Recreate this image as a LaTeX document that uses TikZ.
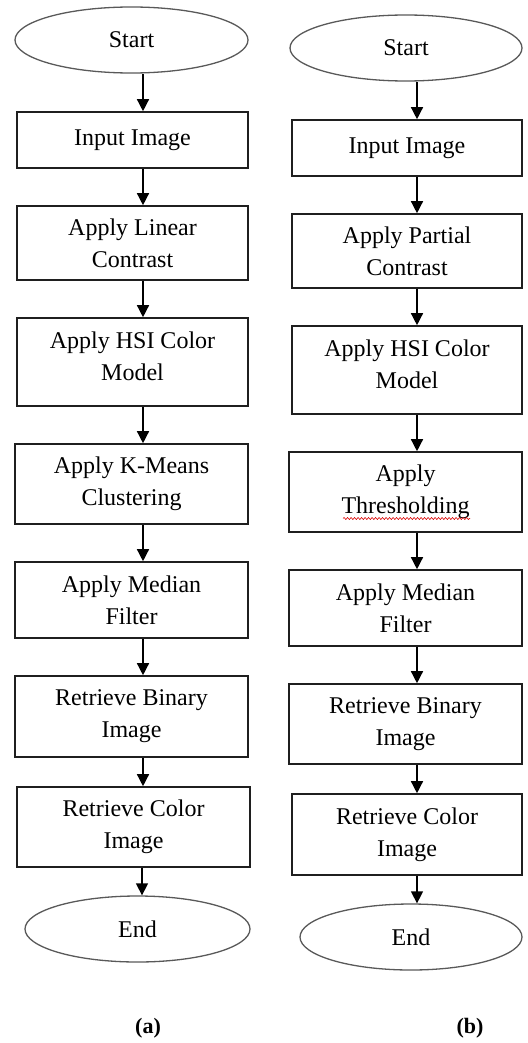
\documentclass[tikz,border=0pt]{standalone}
\usepackage{fontspec}
\setmainfont{Liberation Serif}
\usetikzlibrary{shapes.geometric,arrows.meta,decorations.pathmorphing}
\begin{document}
\begin{tikzpicture}[x=1pt,y=-1pt,
  txt/.style={font=\fontsize{24}{32}\selectfont, text=black},
  stepbox/.style={txt, draw=black!88, line width=1.6pt, inner sep=0pt, align=center},
  term/.style={txt, ellipse, draw=black!65, line width=1.3pt, inner sep=0pt},
  arr/.style={draw=black, line width=1.4pt, -{Triangle[width=12pt,length=12pt]}},
  figlabel/.style={font=\fontsize{22}{26}\selectfont\bfseries},
]
\useasboundingbox (0,0) rectangle (527,1043);

% column x positions of the connectors
\coordinate (ax) at (143,0);
\coordinate (axe) at (142,0);
\coordinate (bx) at (417,0);

% ---- flowchart (a) ----
\node[term, minimum width=233pt, minimum height=66pt] (s1) at (131.5,40) {Start};
\node[stepbox, minimum width=231pt, minimum height=56pt] (i1) at (132.5,140) {Input Image};
\node[stepbox, minimum width=231pt, minimum height=74pt] (c1) at (132.5,243) {Apply Linear\\Contrast};
\node[stepbox, minimum width=231pt, minimum height=88pt] (h1) at (132.5,362) {Apply HSI Color\\Model\\[-20pt]\mbox{}};
\node[stepbox, minimum width=233pt, minimum height=80pt] (k1) at (131.5,484) {Apply K-Means\\Clustering};
\node[stepbox, minimum width=233pt, minimum height=76pt] (m1) at (131.5,600) {Apply Median\\Filter};
\node[stepbox, minimum width=233pt, minimum height=81pt] (b1) at (131.5,716.5) {Retrieve Binary\\Image};
\node[stepbox, minimum width=233pt, minimum height=80pt] (r1) at (133.5,827) {Retrieve Color\\Image};
\node[term, minimum width=225pt, minimum height=66pt] (e1) at (137.5,929) {End};

\draw[arr] (s1.south -| ax) -- (i1.north -| ax);
\draw[arr] (i1.south -| ax) -- (c1.north -| ax);
\draw[arr] (c1.south -| ax) -- (h1.north -| ax);
\draw[arr] (h1.south -| ax) -- (k1.north -| ax);
\draw[arr] (k1.south -| ax) -- (m1.north -| ax);
\draw[arr] (m1.south -| ax) -- (b1.north -| ax);
\draw[arr] (b1.south -| ax) -- (r1.north -| ax);
\draw[arr] (r1.south -| axe) -- (e1.north -| axe);

% ---- flowchart (b) ----
\node[term, minimum width=232pt, minimum height=66pt] (s2) at (406,48) {Start};
\node[stepbox, minimum width=230pt, minimum height=56pt] (i2) at (407,148) {Input Image};
\node[stepbox, minimum width=230pt, minimum height=74pt] (c2) at (407,251) {Apply Partial\\Contrast};
\node[stepbox, minimum width=230pt, minimum height=88pt] (h2) at (407,370) {Apply HSI Color\\Model\\[-20pt]\mbox{}};
\node[stepbox, minimum width=233pt, minimum height=80pt] (t2) at (405.5,492) {Apply\\Thresholding};
\node[stepbox, minimum width=233pt, minimum height=76pt] (m2) at (405.5,608) {Apply Median\\Filter};
\node[stepbox, minimum width=233pt, minimum height=80pt] (b2) at (405.5,724) {Retrieve Binary\\Image};
\node[stepbox, minimum width=230pt, minimum height=81pt] (r2) at (407,834.5) {Retrieve Color\\Image};
\node[term, minimum width=222pt, minimum height=66pt] (e2) at (411,937) {End};

\draw[arr] (s2.south -| bx) -- (i2.north -| bx);
\draw[arr] (i2.south -| bx) -- (c2.north -| bx);
\draw[arr] (c2.south -| bx) -- (h2.north -| bx);
\draw[arr] (h2.south -| bx) -- (t2.north -| bx);
\draw[arr] (t2.south -| bx) -- (m2.north -| bx);
\draw[arr] (m2.south -| bx) -- (b2.north -| bx);
\draw[arr] (b2.south -| bx) -- (r2.north -| bx);
\draw[arr] (r2.south -| bx) -- (e2.north -| bx);

% spell-check squiggle under "Thresholding"
\draw[red!85!black, line width=0.6pt, decorate,
      decoration={snake, amplitude=1pt, segment length=3.5pt}] (343,518.5) -- (470,518.5);

% captions
\node[figlabel] (la) at (148,1028) {(a)};
\node[figlabel] (lb) at (470,1028) {(b)};
\end{tikzpicture}
\end{document}
